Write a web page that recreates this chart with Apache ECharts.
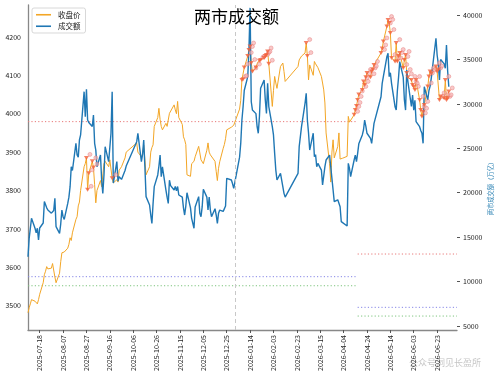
<!DOCTYPE html>
<html><head><meta charset="utf-8">
<script src="https://cdn.jsdelivr.net/npm/echarts@6/dist/echarts.min.js"></script>
<style>html,body{margin:0;padding:0;background:#fff}#c{width:500px;height:381px}</style>
</head><body><div id="c"></div>
<script>
// ---- data ----
const dates = [
'2025-07-08','2025-07-09','2025-07-10','2025-07-11','2025-07-14','2025-07-15','2025-07-16','2025-07-17','2025-07-18',
'2025-07-21','2025-07-22','2025-07-23','2025-07-24','2025-07-25','2025-07-28','2025-07-29','2025-07-30','2025-07-31','2025-08-01',
'2025-08-04','2025-08-05','2025-08-06','2025-08-07','2025-08-08','2025-08-11','2025-08-12','2025-08-13','2025-08-14','2025-08-15',
'2025-08-18','2025-08-19','2025-08-20','2025-08-21','2025-08-22','2025-08-25','2025-08-26','2025-08-27','2025-08-28','2025-08-29',
'2025-09-01','2025-09-02','2025-09-03','2025-09-04','2025-09-05','2025-09-08','2025-09-09','2025-09-10','2025-09-11','2025-09-12',
'2025-09-15','2025-09-16','2025-09-17','2025-09-18','2025-09-19','2025-09-22','2025-09-23','2025-09-24','2025-09-25','2025-09-26',
'2025-09-29','2025-09-30','2025-10-09','2025-10-10','2025-10-13','2025-10-14','2025-10-15','2025-10-16','2025-10-17',
'2025-10-20','2025-10-21','2025-10-22','2025-10-23','2025-10-24','2025-10-27','2025-10-28','2025-10-29','2025-10-30','2025-10-31',
'2025-11-03','2025-11-04','2025-11-05','2025-11-06','2025-11-07','2025-11-10','2025-11-11','2025-11-12','2025-11-13','2025-11-14',
'2025-11-17','2025-11-18','2025-11-19','2025-11-20','2025-11-21','2025-11-24','2025-11-25','2025-11-26','2025-11-27','2025-11-28',
'2025-12-01','2025-12-02','2025-12-03','2025-12-04','2025-12-05','2025-12-08','2025-12-09','2025-12-10','2025-12-11','2025-12-12',
'2025-12-15','2025-12-16','2025-12-17','2025-12-18','2025-12-19','2025-12-22','2025-12-23','2025-12-24','2025-12-25','2025-12-26',
'2025-12-29','2025-12-30','2025-12-31',
'2026-01-05','2026-01-06','2026-01-07','2026-01-08','2026-01-09','2026-01-12','2026-01-13','2026-01-14','2026-01-15','2026-01-16',
'2026-01-19','2026-01-20','2026-01-21','2026-01-22','2026-01-23','2026-01-26','2026-01-27','2026-01-28','2026-01-29','2026-01-30',
'2026-02-02','2026-02-03','2026-02-04','2026-02-05','2026-02-06','2026-02-09','2026-02-10','2026-02-11','2026-02-12','2026-02-13',
'2026-02-24','2026-02-25','2026-02-26','2026-02-27','2026-03-02','2026-03-03','2026-03-04','2026-03-05','2026-03-06',
'2026-03-09','2026-03-10','2026-03-11','2026-03-12','2026-03-13','2026-03-16','2026-03-17','2026-03-18','2026-03-19','2026-03-20',
'2026-03-23','2026-03-24','2026-03-25','2026-03-26','2026-03-27','2026-03-30','2026-03-31','2026-04-01','2026-04-02','2026-04-03',
'2026-04-07','2026-04-08','2026-04-09','2026-04-10','2026-04-13','2026-04-14','2026-04-15','2026-04-16','2026-04-17',
'2026-04-20','2026-04-21','2026-04-22','2026-04-23','2026-04-24','2026-04-27','2026-04-28','2026-04-29','2026-04-30',
'2026-05-06','2026-05-07','2026-05-08','2026-05-11','2026-05-12','2026-05-13','2026-05-14','2026-05-15',
'2026-05-18','2026-05-19','2026-05-20','2026-05-21','2026-05-22','2026-05-25','2026-05-26','2026-05-27','2026-05-28','2026-05-29',
'2026-06-01','2026-06-02','2026-06-03','2026-06-04','2026-06-05','2026-06-08','2026-06-09','2026-06-10','2026-06-11','2026-06-12',
'2026-06-15','2026-06-16','2026-06-17','2026-06-18','2026-06-22','2026-06-23','2026-06-24','2026-06-25','2026-06-26',
'2026-06-29','2026-06-30','2026-07-01','2026-07-02','2026-07-03'
];
const closeValues = [
3482,3495,3505,3516,3512,3509,3505,3516,3530,
3560,3581,3590,3602,3596,3598,3610,3615,3575,3560,
3585,3615,3638,3642,3640,3650,3660,3677,3670,3690,
3725,3732,3760,3770,3800,3862,3870,3885,3802,3845,
3876,3860,3815,3768,3800,3826,3810,3812,3870,3876,
3862,3880,3876,3832,3820,3828,3822,3853,3853,3862,
3885,3900,3924,3900,3888,3895,3918,3915,3841,
3862,3900,3912,3919,3967,3990,4014,3985,3967,3958,
3975,3967,3970,4001,3998,4023,4010,4000,4032,3990,
3972,3940,3932,3920,3841,3837,3870,3872,3876,3888,
3915,3898,3880,3876,3870,3905,3924,3900,3893,3890,
3876,3850,3826,3858,3875,3910,3920,3935,3958,3962,
3965,3967,3970,
4012,4035,4088,4090,4120,4150,4166,4175,4132,4110,
4120,4130,4136,4138,4140,4145,4150,4153,4162,4130,
4019,4060,4097,4080,4066,4123,4128,4132,4110,4084,
4123,4140,4145,4150,4158,4184,4150,4088,4127,
4100,4136,4130,4132,4120,4097,4080,4062,4028,3950,
3870,3822,3900,3932,3885,3915,3950,3882,3880,3884,
3889,3993,3978,3982,3997,4010,4020,4036,4050,
4062,4084,4075,4095,4106,4095,4110,4115,4127,
4158,4170,4188,4227,4244,4236,4210,4145,
4136,4184,4136,4150,4158,4119,4140,4153,4106,4095,
4088,4075,4070,4062,4088,4036,4010,3993,4005,4023,
4071,4097,4110,4105,4123,4110,4115,4036,4045,
4040,4088,4036,4040,4058
];
const volumeValues = [
12800,14870,15050,17120,16000,15500,16000,14680,16030,
16590,19000,18800,18300,18050,17700,17900,18000,19370,16180,
15430,16500,18050,17300,17000,18800,19500,20680,22930,22500,
25560,24240,24000,25930,26500,31370,28560,31640,28180,27900,
27450,28750,25560,24800,22930,24240,21430,19930,22000,25180,
23500,23300,26690,31370,21090,23500,21300,21800,21600,21500,
22500,23000,25740,26690,23500,24300,25930,22930,19560,
18620,17490,16550,18800,20680,22000,23000,24240,21800,22900,
20300,19500,18800,21400,20800,20300,20700,20200,20700,19740,
19500,18300,17490,18500,20000,18300,17120,17000,16000,18400,
19560,17680,17300,18400,20390,19500,18050,19500,18050,17300,
18200,17490,16550,17700,18050,17900,18050,18500,21620,21500,
21430,21000,20500,
24000,25560,28180,29680,31500,33060,36060,40800,30240,29300,
28900,27430,26690,28600,31750,32690,30430,28930,32310,29700,
27430,26500,24440,22550,21430,22180,22000,20680,19930,19500,
22180,25180,25000,27430,30060,31190,28180,26690,24800,
26700,24050,24300,22930,23300,22550,20870,21000,22930,23680,
24240,22900,21620,20300,18990,19200,19400,18420,16740,16550,
16250,23310,22750,21800,23680,24240,23500,24430,25500,
26500,27060,28180,27500,26690,26120,25560,26690,27810,
30800,32310,33060,35300,35690,33060,33500,32310,
29680,29300,31500,33000,34750,33000,30430,29300,33800,32500,
29700,31000,29300,30400,28000,27430,27000,26690,25560,31930,
30430,31500,32000,32900,37380,35500,34500,32700,35000,
34500,34000,36620,33700,31930
];
// days carrying the red down-triangle signal
const signalDates = [
'2025-08-27','2025-08-28','2025-08-29','2025-09-01','2025-09-02','2025-09-18',
'2026-01-07','2026-01-08','2026-01-09','2026-01-12','2026-01-13','2026-01-14','2026-01-15','2026-01-16',
'2026-01-19','2026-01-22','2026-01-23','2026-01-26','2026-01-27','2026-01-28','2026-01-29','2026-01-30',
'2026-03-03','2026-03-04',
'2026-04-13','2026-04-14','2026-04-15','2026-04-16','2026-04-17',
'2026-04-20','2026-04-21','2026-04-22','2026-04-23','2026-04-24','2026-04-27','2026-04-28','2026-04-29','2026-04-30',
'2026-05-06','2026-05-07','2026-05-08','2026-05-11','2026-05-12','2026-05-13','2026-05-14','2026-05-15',
'2026-05-18','2026-05-19','2026-05-20','2026-05-21','2026-05-22','2026-05-25','2026-05-26','2026-05-27','2026-05-28','2026-05-29',
'2026-06-01','2026-06-02','2026-06-03','2026-06-04','2026-06-05','2026-06-08','2026-06-09','2026-06-10','2026-06-11','2026-06-12',
'2026-06-15','2026-06-16','2026-06-17','2026-06-18','2026-06-22','2026-06-23','2026-06-24','2026-06-25','2026-06-26',
'2026-06-29','2026-06-30','2026-07-01','2026-07-02','2026-07-03'
];
const xTickLabels = ['2025-07-18','2025-08-07','2025-08-27','2025-09-16','2025-10-06','2025-10-26','2025-11-15',
'2025-12-05','2025-12-25','2026-01-14','2026-02-03','2026-02-23','2026-03-15','2026-04-04','2026-04-24',
'2026-05-14','2026-06-03','2026-06-23'];
const leftTicks = [3500,3600,3700,3800,3900,4000,4100,4200];
const rightTicks = [5000,10000,15000,20000,25000,30000,35000,40000];
const xRange = ['2025-07-08','2026-07-10'];
const leftRange = [3437,4283];
const rightRange = [4550,41125];
const yearMarkDates = ['2026-01-01'];
// horizontal reference levels (成交额 scale), two periods
const periodBounds = ['2025-07-08','2026-04-16','2026-07-10'];
const redLevels = [28000,13100];
const purpleLevels = [10550,7100];
const greenLevels = [9530,6120];

// ---- build ----
const ts = s => { const p = s.split('-').map(Number); return new Date(p[0], p[1]-1, p[2]).getTime(); };
const pad = n => (n < 10 ? '0' : '') + n;
const fmt = v => { const d = new Date(v); return d.getFullYear() + '-' + pad(d.getMonth()+1) + '-' + pad(d.getDate()); };
const closeData = dates.map((d,i) => [ts(d), closeValues[i]]);
const volData = dates.map((d,i) => [ts(d), volumeValues[i]]);
const pos = {}; dates.forEach((d,i) => pos[d] = i);
const sigData = signalDates.map(d => [ts(d), closeValues[pos[d]]]);

const FONT = 'Noto Sans CJK SC';
const levelSeries = [];
[[redLevels,'#e87878'],[purpleLevels,'#8585e6'],[greenLevels,'#7dc47d']].forEach(([lv,col]) => {
  for (let p = 0; p < lv.length; p++) {
    levelSeries.push({
      type:'line', yAxisIndex:1, silent:true, symbol:'none', z:1,
      data:[[ts(periodBounds[p]), lv[p]], [ts(periodBounds[p+1]), lv[p]]],
      lineStyle:{color:col, width:1, type:[1.2,2.2]}
    });
  }
});

const chart = echarts.init(document.getElementById('c'), null, {renderer:'canvas'});
chart.setOption({
  animation:false,
  backgroundColor:'#fff',
  textStyle:{fontFamily:FONT},
  title:{text:'两市成交额', left:194, top:8, padding:0,
    textStyle:{fontSize:17, fontWeight:'normal', color:'#000', fontFamily:FONT}},
  legend:{orient:'vertical', left:32, top:8,
    data:[{name:'收盘价', icon:'rect'},{name:'成交额', icon:'rect'}],
    itemWidth:15, itemHeight:1.6, itemGap:4, padding:[3,5,3,4],
    borderColor:'#d8d8d8', borderWidth:1, borderRadius:2, backgroundColor:'#fff',
    textStyle:{fontSize:7.5, color:'#222', fontFamily:FONT, padding:[0,0,0,2]}},
  grid:{left:28, right:43, top:5, bottom:51},
  xAxis:{type:'value', min:ts(xRange[0]), max:ts(xRange[1]),
    axisLine:{show:true, onZero:false, lineStyle:{color:'#888', width:1.3}},
    axisTick:{show:true, customValues:xTickLabels.map(ts), length:3, lineStyle:{color:'#555'}},
    axisLabel:{customValues:xTickLabels.map(ts), rotate:90, formatter:fmt, fontSize:7, color:'#222', margin:5, hideOverlap:false},
    splitLine:{show:false}},
  yAxis:[
    {type:'value', position:'left', min:leftRange[0], max:leftRange[1],
     axisLine:{show:true, onZero:false, lineStyle:{color:'#888', width:1.3}},
     axisTick:{show:false, customValues:leftTicks},
     axisLabel:{customValues:leftTicks, formatter:v => String(v), fontSize:7, color:'#222', margin:7},
     splitLine:{show:false}},
    {type:'value', position:'right', min:rightRange[0], max:rightRange[1],
     axisLine:{show:false},
     axisTick:{show:true, customValues:rightTicks, length:3, lineStyle:{color:'#555'}},
     axisLabel:{customValues:rightTicks, formatter:v => String(v), fontSize:7, color:'#222', margin:6},
     splitLine:{show:false}}
  ],
  series:[
    ...levelSeries,
    {name:'收盘价', type:'line', yAxisIndex:0, data:closeData, symbol:'none', z:3,
     lineStyle:{color:'#f3a626', width:1}, itemStyle:{color:'#f3a626'}},
    {name:'成交额', type:'line', yAxisIndex:1, data:volData, symbol:'none', z:4,
     lineStyle:{color:'#1f77b4', width:1.4}, itemStyle:{color:'#1f77b4'},
     markLine:{silent:true, symbol:'none', label:{show:false},
       lineStyle:{color:'#c8c8c8', type:[4,3], width:1},
       data:yearMarkDates.map(d => ({xAxis:ts(d)}))}},
    {name:'sigDot', type:'scatter', yAxisIndex:0, data:sigData, symbol:'circle', symbolSize:4,
     symbolOffset:[3.5,-3.5], z:5, silent:true,
     itemStyle:{color:'rgba(246,176,176,0.85)', borderColor:'#e27070', borderWidth:0.5}},
    {name:'sigTri', type:'scatter', yAxisIndex:0, data:sigData, symbol:'triangle', symbolRotate:180,
     symbolSize:[5,4], z:6, silent:true, itemStyle:{color:'#f2603c'}}
  ],
  graphic:[
    {type:'text', x:491, y:187, rotation:Math.PI/2, silent:true,
     style:{text:'两市成交额（万亿）', fill:'#3a8ab8', font:'6.3px "Noto Sans CJK SC"', align:'center', verticalAlign:'middle'}},
    {type:'text', left:409, top:358, silent:true,
     style:{text:'公众号洞见长盈所', fill:'rgba(150,150,150,0.55)', font:'9px "Noto Sans CJK SC"'}}
  ]
});
</script></body></html>
